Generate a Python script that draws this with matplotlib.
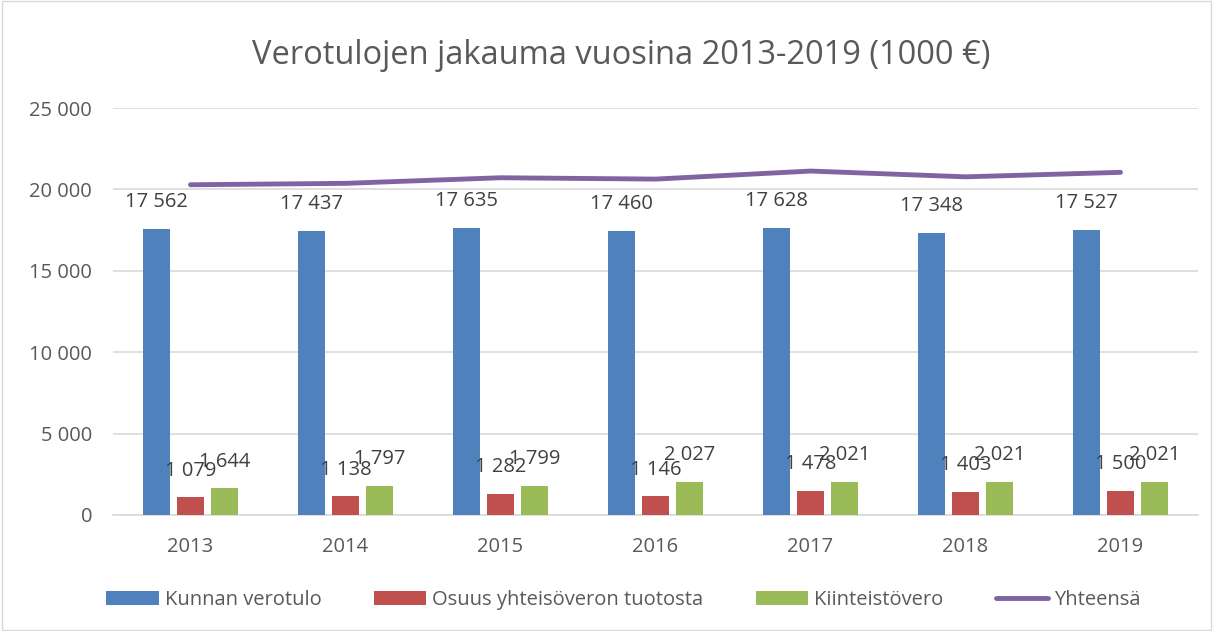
import numpy as np
import matplotlib
matplotlib.use('Agg')
import matplotlib.pyplot as plt
from matplotlib.ticker import FuncFormatter
from matplotlib.patches import Rectangle

years = ['2013', '2014', '2015', '2016', '2017', '2018', '2019']
kunnan_verotulo = [17562, 17437, 17635, 17460, 17628, 17348, 17527]
osuus_yhteisovero = [1079, 1138, 1282, 1146, 1478, 1403, 1500]
kiinteistovero = [1644, 1797, 1799, 2027, 2021, 2021, 2021]
yhteensa = [20285, 20372, 20716, 20633, 21127, 20772, 21048]

plt.rcParams['font.family'] = ['Open Sans', 'DejaVu Sans']

def fmt(v):
    return '{:,}'.format(int(v)).replace(',', ' ')

fig = plt.figure(figsize=(12.13, 6.31), dpi=100)
ax = fig.add_axes([113/1213, 1 - 515/631, 1085/1213, 407/631])

x = np.arange(len(years))
w = 0.175
gap = 0.22
b1 = ax.bar(x - gap, kunnan_verotulo, w, color='#4F81BD', label='Kunnan verotulo', zorder=3)
b2 = ax.bar(x, osuus_yhteisovero, w, color='#C0504D', label='Osuus yhteisöveron tuotosta', zorder=3)
b3 = ax.bar(x + gap, kiinteistovero, w, color='#9BBB59', label='Kiinteistövero', zorder=3)
ax.plot(x, yhteensa, color='#8064A2', lw=3.5, label='Yhteensä', zorder=4, solid_capstyle='round')

# data labels above each bar (they overlap in the original too)
for bars in (b1, b2, b3):
    for b in bars:
        ax.annotate(fmt(b.get_height()), (b.get_x() + b.get_width()/2, b.get_height()),
                    xytext=(0, 12), textcoords='offset points',
                    ha='center', va='bottom', fontsize=14.5, color='#404040', zorder=5)

ax.set_xlim(-0.5, len(years) - 0.5)
ax.set_ylim(0, 25000)
ax.set_yticks(np.arange(0, 25001, 5000))
ax.yaxis.set_major_formatter(FuncFormatter(lambda v, p: fmt(v)))
ax.set_xticks(x)
ax.set_xticklabels(years)
ax.tick_params(axis='both', length=0, labelsize=14.5, colors='#595959')
ax.tick_params(axis='y', pad=15)
ax.tick_params(axis='x', pad=16)
ax.grid(axis='y', color='#D9D9D9', lw=1.2, zorder=0)
for s in ['top', 'right', 'left']:
    ax.spines[s].set_visible(False)
ax.spines['bottom'].set_color('#D9D9D9')
ax.spines['bottom'].set_linewidth(1.2)

fig.text(0.512, 1 - 55/631, 'Verotulojen jakauma vuosina 2013-2019 (1000 €)', ha='center', va='center',
         fontsize=23.5, color='#595959')

handles, labels = ax.get_legend_handles_labels()
order = [1, 2, 3, 0]
leg = fig.legend([handles[i] for i in order], [labels[i] for i in order],
                 loc='center', bbox_to_anchor=(0.514, 1 - 600/631), ncol=4, frameon=False,
                 fontsize=14.5, handlelength=2.6, handleheight=0.7, columnspacing=2.6, handletextpad=0.3)
for t in leg.get_texts():
    t.set_color('#595959')

fig.patches.append(Rectangle((0.002, 0.002), 0.996, 0.996, transform=fig.transFigure,
                             fill=False, edgecolor='#D9D9D9', lw=1))

fig.savefig('out.png', dpi=100)
